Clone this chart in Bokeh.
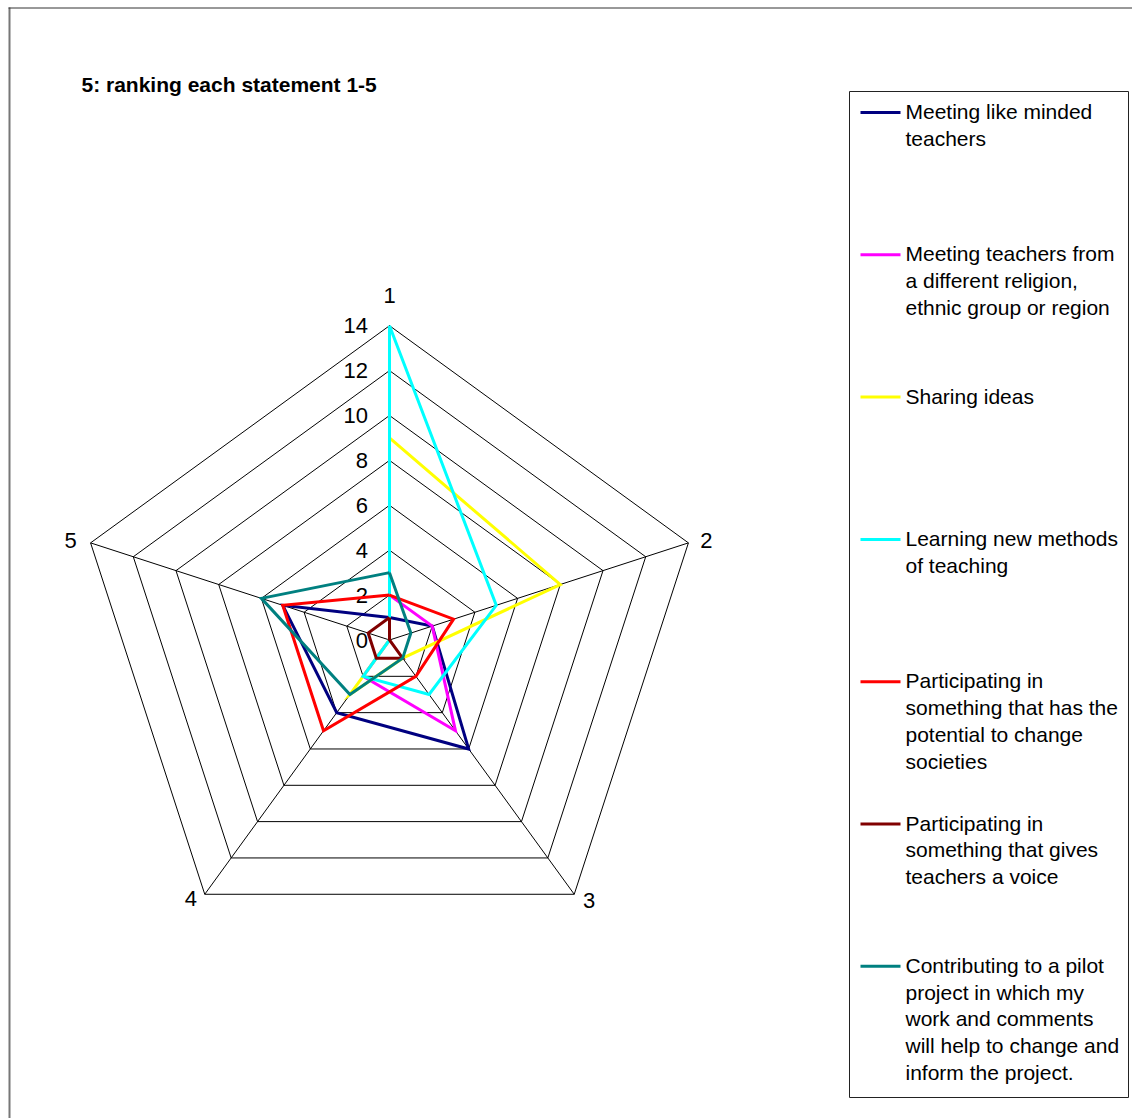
import math
from bokeh.plotting import figure
from bokeh.models import Range1d
from bokeh.core.properties import value
from bokeh.embed import file_html
from bokeh.resources import INLINE

# ---------------- data ----------------
title_text = "5: ranking each statement 1-5"
axis_labels = ["1", "2", "3", "4", "5"]
tick_values = [0, 2, 4, 6, 8, 10, 12, 14]
tick_labels = ["0", "2", "4", "6", "8", "10", "12", "14"]

series_names = [
    "Meeting like minded\nteachers",
    "Meeting teachers from\na different religion,\nethnic group or region",
    "Sharing ideas",
    "Learning new methods\nof teaching",
    "Participating in\nsomething that has the\npotential to change\nsocieties",
    "Participating in\nsomething that gives\nteachers a voice",
    "Contributing to a pilot\nproject in which my\nwork and comments\nwill help to change and\ninform the project.",
]
series_colors = ["#000080", "#FF00FF", "#FFFF00", "#00FFFF", "#FF0000", "#800000", "#008080"]

meeting_like_minded = [1, 2, 6, 4, 5]
meeting_different_groups = [2, 2, 5, 2, 0]
sharing_ideas = [9, 8, 1, 3, 0]
learning_new_methods = [14, 5, 3, 2, 0]
change_societies = [2, 3, 2, 5, 5]
teachers_voice = [1, 0, 1, 1, 1]
pilot_project = [3, 1, 1, 3, 6]
series_values = [meeting_like_minded, meeting_different_groups, sharing_ideas,
                 learning_new_methods, change_societies, teachers_voice, pilot_project]

# ---------------- layout ----------------
W, H = 1132, 1118
FONT = "Liberation Sans"
cx, cy = 389.0, 639.5     # radar centre (pixel-like data units, y downward)
s = 22.45                 # pixels per unit of value
vmax = 14
n = len(axis_labels)

def pt(k, v):
    a = 2 * math.pi * k / n
    return cx + v * s * math.sin(a), cy - v * s * math.cos(a)

p = figure(width=W, height=H, x_range=Range1d(0, W), y_range=Range1d(H, 0),
           output_backend="svg", toolbar_location=None, min_border=0,
           x_axis_location=None, y_axis_location=None)
p.grid.visible = False
p.outline_line_color = None
p.background_fill_color = "white"
p.border_fill_color = "white"

# chart-area frame (left and top edges visible)
p.line(x=[9, 9], y=[H, 7], line_color="#777777", line_width=2)
p.line(x=[8, W], y=[7.5, 7.5], line_color="#333333", line_width=1)

# rings
ring_xs, ring_ys = [], []
for v in tick_values[1:]:
    pts = [pt(k, v) for k in range(n)] + [pt(0, v)]
    ring_xs.append([q[0] for q in pts])
    ring_ys.append([q[1] for q in pts])
p.multi_line(xs=ring_xs, ys=ring_ys, line_color="black", line_width=1)

# spokes
ends = [pt(k, vmax) for k in range(n)]
p.segment(x0=[cx] * n, y0=[cy] * n, x1=[e[0] for e in ends], y1=[e[1] for e in ends],
          line_color="black", line_width=1)

# value tick labels along axis 1
p.text(x=[cx - 21.5] * len(tick_values), y=[cy - v * s for v in tick_values], text=tick_labels,
       text_align="right", text_baseline="middle", text_font=value(FONT),
       text_font_size="22px", text_color="black")

# category labels (offset from the outer vertex of each spoke)
off_x = [0, 18, 15, -14, -20]
off_y = [-30, -2, 6, 4, -2]
p.text(x=[ends[k][0] + off_x[k] for k in range(n)],
       y=[ends[k][1] + off_y[k] for k in range(n)], text=axis_labels,
       text_align="center", text_baseline="middle", text_font=value(FONT),
       text_font_size="22px", text_color="black")

# series
for vals, col in zip(series_values, series_colors):
    pts = [pt(k, v) for k, v in enumerate(vals)] + [pt(0, vals[0])]
    p.line(x=[q[0] for q in pts], y=[q[1] for q in pts], line_color=col,
           line_width=3, line_join="miter")

# title
p.text(x=[81], y=[84], text=[title_text], text_align="left", text_baseline="middle",
       text_font=value(FONT), text_font_size="21px", text_font_style="bold",
       text_color="black")

# legend
p.quad(left=[849], right=[1128], top=[91], bottom=[1097], fill_color="white",
       line_color="#222222", line_width=1)
first_y = 111.0
entry_step = 142.3
line_step = 26.8
tx, ty, tt = [], [], []
for i, (name, col) in enumerate(zip(series_names, series_colors)):
    y0 = first_y + i * entry_step
    p.segment(x0=[860], y0=[y0 + 1], x1=[900], y1=[y0 + 1], line_color=col, line_width=3)
    for j, line in enumerate(name.split("\n")):
        tx.append(905)
        ty.append(y0 + j * line_step)
        tt.append(line)
p.text(x=tx, y=ty, text=tt, text_align="left", text_baseline="middle",
       text_font=value(FONT), text_font_size="21px", text_color="black")

open("out.html", "w").write(file_html(p, INLINE))
